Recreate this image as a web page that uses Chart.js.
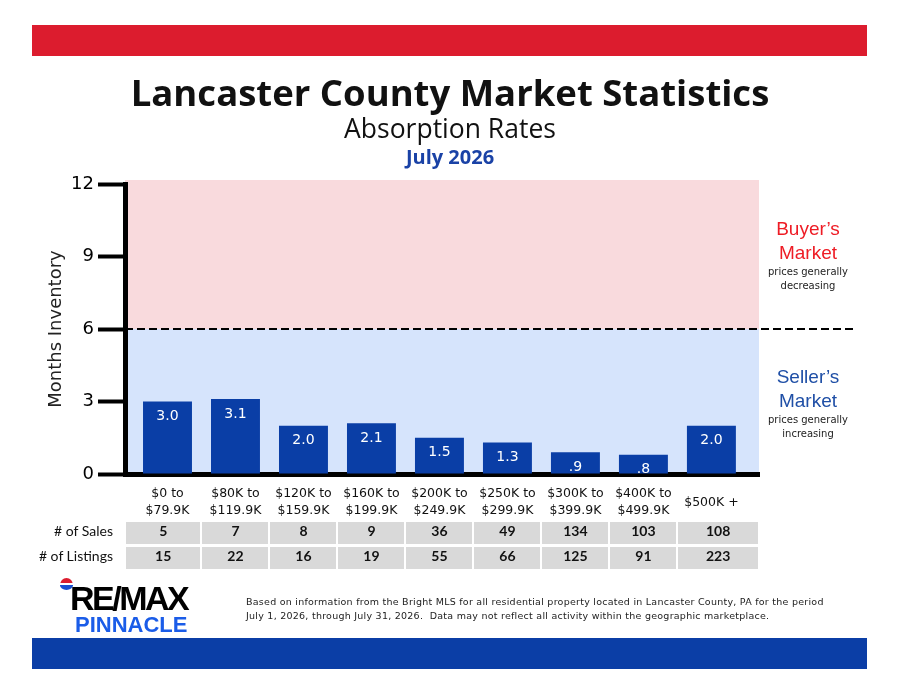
<!DOCTYPE html>
<html>
<head>
<meta charset="UTF-8">
<title>Lancaster County Market Statistics</title>
<style>
    body {
        margin: 0;
        background: #fff;
        font-family: 'DejaVu Sans', sans-serif;
    }

    #page {
        position: relative;
        width: 900px;
        height: 695px;
        overflow: hidden;
        background: #fff;
    }

    #chart {
        position: absolute;
        left: 0;
        top: 0;
    }

    .band {
        position: absolute;
        left: 32px;
        width: 835px;
        height: 31px;
    }

    #topBand { top: 25px; background: #dc1c2e; }
    #bottomBand { top: 638px; background: #0b3ea6; }

    .head {
        position: absolute;
        left: 0;
        width: 900px;
        text-align: center;
        color: #111;
    }

    #title { top: 70px; font: 700 36.5px 'Open Sans', sans-serif; line-height: 44px; }
    #subtitle { top: 113px; font: 400 26.5px 'Open Sans', sans-serif; line-height: 30px; }
    #month { top: 145px; font: 700 20px 'Open Sans', sans-serif; line-height: 24px; color: #1a42a6; }

    .side {
        position: absolute;
        left: 758px;
        width: 100px;
        text-align: center;
    }

    .side .big { font: 400 19px 'Liberation Sans', sans-serif; line-height: 24px; }
    .side .small { font-size: 10px; line-height: 14px; color: #222; }
    #buyer { top: 217px; }
    #buyer .big { color: #ee1c25; }
    #seller { top: 365px; }
    #seller .big { color: #1f4fa6; }

    .rowLabel {
        position: absolute;
        left: 0;
        width: 113px;
        height: 22px;
        line-height: 22px;
        text-align: right;
        font: 400 14px Lato, sans-serif;
        color: #111;
    }

    .cell {
        position: absolute;
        height: 22px;
        line-height: 22px;
        text-align: center;
        background: #d9d9d9;
        font: 700 14px Lato, sans-serif;
        color: #111;
    }

    #balloon {
        position: absolute;
        left: 60px;
        top: 578px;
        width: 13px;
        height: 12px;
        border-radius: 50% 50% 50% 50% / 60% 60% 40% 40%;
        background: linear-gradient(#dc1c2e 0 42%, #fff 42% 58%, #1a4fd0 58%);
    }

    #remax {
        position: absolute;
        left: 70px;
        top: 580px;
        font: 900 34px 'Liberation Sans', sans-serif;
        letter-spacing: -2.5px;
        line-height: 36px;
        color: #000;
    }

    #pinnacle {
        position: absolute;
        left: 75px;
        top: 612px;
        font: 700 22px 'Liberation Sans', sans-serif;
        line-height: 26px;
        color: #1a5ce8;
    }

    #note {
        position: absolute;
        left: 246px;
        top: 595px;
        font-size: 9.5px;
        letter-spacing: 0.25px;
        line-height: 13.5px;
        color: #222;
        white-space: pre;
    }
</style>
</head>
<body>
<div id="page">
    <canvas id="chart" width="900" height="695"></canvas>
    <div class="band" id="topBand"></div>
    <div class="band" id="bottomBand"></div>
    <div class="head" id="title">Lancaster County Market Statistics</div>
    <div class="head" id="subtitle">Absorption Rates</div>
    <div class="head" id="month">July 2026</div>

    <div class="side" id="buyer">
        <div class="big">Buyer’s</div>
        <div class="big">Market</div>
        <div class="small">prices generally</div>
        <div class="small">decreasing</div>
    </div>
    <div class="side" id="seller">
        <div class="big">Seller’s</div>
        <div class="big">Market</div>
        <div class="small">prices generally</div>
        <div class="small">increasing</div>
    </div>

    <div id="table"></div>

    <div id="balloon"></div>
    <div id="remax">RE/MAX</div>
    <div id="pinnacle">PINNACLE</div>
    <div id="note">Based on information from the Bright MLS for all residential property located in Lancaster County, PA for the period
July 1, 2026, through July 31, 2026.  Data may not reflect all activity within the geographic marketplace.</div>
</div>

<script src="https://cdn.jsdelivr.net/npm/chart.js"></script>
<script>
    const priceRanges = [
        ['$0 to', '$79.9K'],
        ['$80K to', '$119.9K'],
        ['$120K to', '$159.9K'],
        ['$160K to', '$199.9K'],
        ['$200K to', '$249.9K'],
        ['$250K to', '$299.9K'],
        ['$300K to', '$399.9K'],
        ['$400K to', '$499.9K'],
        '$500K +'
    ];
    const monthsInventory = [3.0, 3.1, 2.0, 2.1, 1.5, 1.3, 0.9, 0.8, 2.0];
    const salesCounts = [5, 7, 8, 9, 36, 49, 134, 103, 108];
    const listingCounts = [15, 22, 16, 19, 55, 66, 125, 91, 223];
    const yTickValues = [0, 3, 6, 9, 12];
    const balancePoint = 6;

    function barText(v) {
        const s = v.toFixed(1);
        return v < 1 ? s.slice(1) : s;
    }

    // shaded zones, the 6-month dashed line and the labels inside the bars
    const zonePlugin = {
        id: 'zones',
        beforeDraw(chart) {
            const { ctx, chartArea } = chart;
            const y = chart.scales.y;
            ctx.save();
            ctx.fillStyle = '#f9dadd';
            ctx.fillRect(chartArea.left, y.getPixelForValue(y.max) - 4, chartArea.width,
                y.getPixelForValue(balancePoint) - y.getPixelForValue(y.max) + 4);
            ctx.fillStyle = '#d6e4fc';
            ctx.fillRect(chartArea.left, y.getPixelForValue(balancePoint), chartArea.width,
                y.getPixelForValue(y.min) - y.getPixelForValue(balancePoint));
            ctx.restore();
        },
        afterDatasetsDraw(chart) {
            const { ctx, chartArea } = chart;
            const y6 = chart.scales.y.getPixelForValue(balancePoint);
            ctx.save();
            ctx.strokeStyle = '#000';
            ctx.lineWidth = 2;
            ctx.setLineDash([8, 4]);
            ctx.beginPath();
            ctx.moveTo(chartArea.left, y6);
            ctx.lineTo(chart.width - 43, y6);
            ctx.stroke();

            ctx.setLineDash([]);
            ctx.fillStyle = '#fff';
            ctx.font = '14px "DejaVu Sans"';
            ctx.textAlign = 'center';
            ctx.textBaseline = 'middle';
            chart.getDatasetMeta(0).data.forEach((bar, i) => {
                ctx.fillText(barText(monthsInventory[i]), bar.x, bar.y + 15);
            });
            ctx.restore();
        }
    };

    const ctx = document.getElementById('chart').getContext('2d');
    const chart = new Chart(ctx, {
        type: 'bar',
        data: {
            datasets: [{
                data: monthsInventory.map((v, i) => ({ x: i, y: v })),
                backgroundColor: '#0a3ea6',
                barPercentage: 0.72,
                categoryPercentage: 1.0
            }]
        },
        options: {
            responsive: false,
            animation: false,
            layout: { padding: { left: 42, right: 141, top: 184, bottom: 171 } },
            plugins: {
                legend: { display: false },
                tooltip: { enabled: false }
            },
            scales: {
                x: {
                    type: 'linear',
                    offset: false,
                    min: -0.625,
                    max: 8.7,
                    afterBuildTicks: s => { s.ticks = priceRanges.map((_, i) => ({ value: i })); },
                    afterFit: s => { s.height = 50; },
                    ticks: {
                        callback: v => priceRanges[v],
                        color: '#111',
                        font: { family: 'DejaVu Sans', size: 12.5, lineHeight: 1.35 },
                        padding: 20,
                        crossAlign: 'center',
                        maxRotation: 0,
                        autoSkip: false
                    },
                    grid: { display: false, drawTicks: false, offset: false },
                    border: { display: true, color: '#000', width: 5 }
                },
                y: {
                    min: 0,
                    max: 12,
                    afterBuildTicks: s => { s.ticks = yTickValues.map(v => ({ value: v })); },
                    afterFit: s => { s.width = 83; },
                    ticks: {
                        color: '#000',
                        font: { family: 'DejaVu Sans', size: 18 },
                        padding: 4
                    },
                    grid: {
                        drawOnChartArea: false,
                        drawTicks: true,
                        tickLength: 27,
                        tickWidth: 4,
                        tickColor: '#000'
                    },
                    border: { display: true, color: '#000', width: 5 },
                    title: {
                        display: true,
                        text: 'Months Inventory',
                        color: '#222',
                        font: { family: 'DejaVu Sans', size: 18 }
                    }
                }
            }
        },
        plugins: [zonePlugin]
    });

    // sales / listings table under the price ranges, columns follow the x scale
    function buildTable() {
        const xs = chart.scales.x;
        const area = chart.chartArea;
        const table = document.getElementById('table');
        const rows = [['# of Sales', salesCounts, 522], ['# of Listings', listingCounts, 547]];
        rows.forEach(([name, values, top]) => {
            const label = document.createElement('div');
            label.className = 'rowLabel';
            label.style.top = top + 'px';
            label.textContent = name;
            table.appendChild(label);
            values.forEach((v, i) => {
                const left = i === 0 ? area.left : (xs.getPixelForValue(i - 1) + xs.getPixelForValue(i)) / 2;
                const right = i === values.length - 1 ? area.right : (xs.getPixelForValue(i) + xs.getPixelForValue(i + 1)) / 2;
                const cell = document.createElement('div');
                cell.className = 'cell';
                cell.style.top = top + 'px';
                cell.style.left = (left + 1) + 'px';
                cell.style.width = (right - left - 2) + 'px';
                cell.textContent = v;
                table.appendChild(cell);
            });
        });
    }
    buildTable();
</script>
</body>
</html>
